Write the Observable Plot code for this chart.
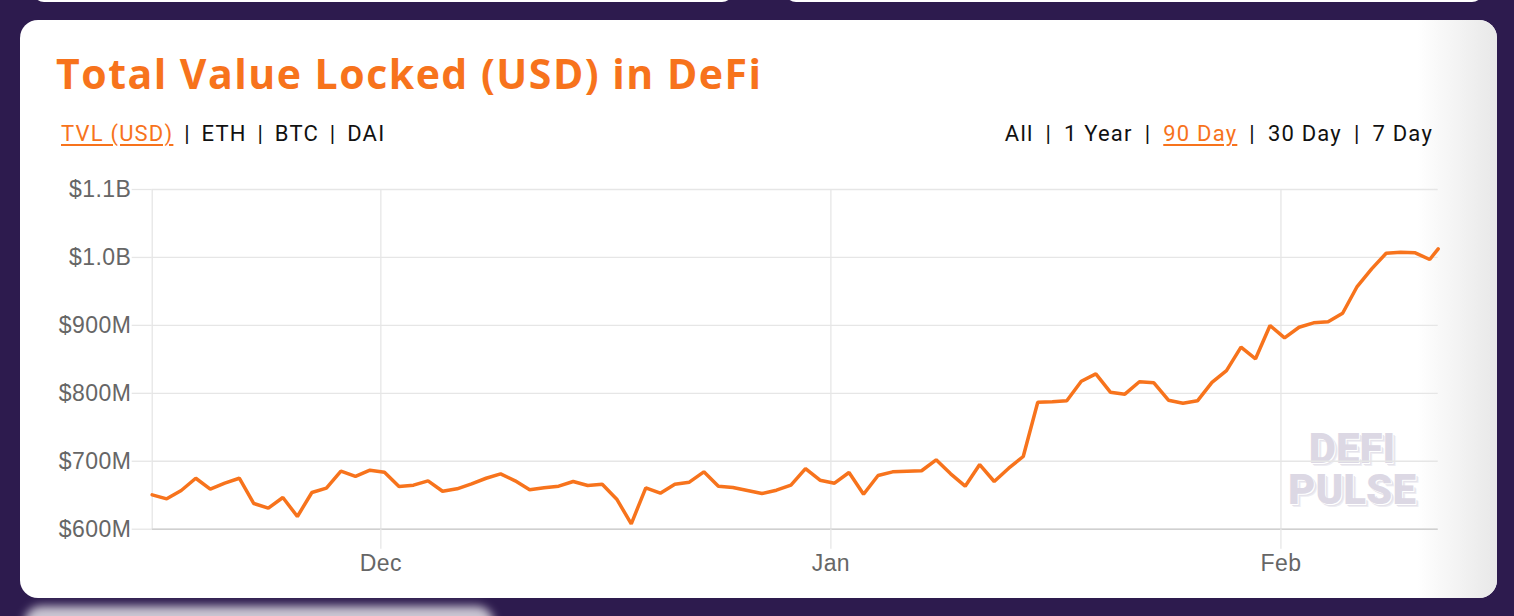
<!DOCTYPE html>
<html>
<head>
<meta charset="utf-8">
<script src="https://cdn.jsdelivr.net/npm/d3@7"></script>
<script src="https://cdn.jsdelivr.net/npm/@observablehq/plot@0.6"></script>
<style>
  html, body { margin: 0; padding: 0; }
  body { width: 1514px; height: 616px; overflow: hidden; position: relative; background: #2d1b4e; }
  .topcard { position: absolute; top: -20px; height: 22px; background: #fff; border-radius: 18px; }
  .card { position: absolute; left: 20px; top: 20px; width: 1477px; height: 578px; background: #fff; border-radius: 18px; overflow: hidden; }
  .fade { position: absolute; right: 0; top: 0; width: 80px; height: 100%; background: linear-gradient(to right, rgba(236,236,236,0), rgba(232,232,232,1)); }
  .glow { position: absolute; left: 24px; top: 606px; width: 470px; height: 40px; background: #fff; border-radius: 18px; filter: blur(5px); opacity: 0.75; }
  .title { position: absolute; left: 56px; top: 46px; font-family: "Open Sans", Roboto, sans-serif; font-weight: 700; font-size: 41px; letter-spacing: 1.5px; color: #f7731c; white-space: nowrap; line-height: 54px; }
  .nav { position: absolute; top: 120px; font-family: Roboto, sans-serif; font-size: 22px; letter-spacing: 1.2px; color: #111; white-space: nowrap; line-height: 28px; }
  .nav .sel { color: #f7731c; text-decoration: underline; text-underline-offset: 3px; }
  .navl .sep { margin: 0 10.8px; }
  .navr .sep { margin: 0 12px; }
  .navl { left: 61px; }
  .navr { right: 81px; }
  .wm { position: absolute; left: 1287px; width: 130px; text-align: center; font-family: Roboto, sans-serif; font-weight: 900; font-size: 42px; line-height: 38px; height: 38px; color: #dcd8e4; text-shadow: 1px 1px 0 #fff, 2px 2px 0 #e4e2ea, 3px 3px 0 #eeedf2; }
  #chart { position: absolute; left: 0; top: 170px; }
</style>
</head>
<body>
<div class="topcard" style="left:33px;width:700px"></div>
<div class="topcard" style="left:785px;width:698px"></div>
<div class="card"><div class="fade"></div></div>
<div class="glow"></div>
<div class="title">Total Value Locked (USD) in DeFi</div>
<div class="nav navl"><span class="sel">TVL (USD)</span><span class="sep">|</span>ETH<span class="sep">|</span>BTC<span class="sep">|</span>DAI</div>
<div class="nav navr">All<span class="sep">|</span>1 Year<span class="sep">|</span><span class="sel">90 Day</span><span class="sep">|</span>30 Day<span class="sep">|</span>7 Day</div>
<div class="wm" style="top:430px">DEFI</div>
<div class="wm" style="top:471px">PULSE</div>
<div id="chart"></div>
<script>
// Daily TVL values in millions of USD, starting 2019-11-15
const startDate = "2019-11-15T06:00:00Z";
const lastTimestamp = "2020-02-11T20:00:00Z";
const tvlDaily = [
  650.6, 644.7, 657.0, 675.0, 658.9, 667.7, 675.0, 637.8, 630.9, 646.7,
  618.7, 654.0, 660.4, 685.4, 677.6, 686.9, 683.9, 662.8, 664.8, 671.2,
  655.9, 659.4, 666.8, 675.0, 681.5, 671.2, 658.0, 660.9, 663.3, 670.2,
  664.3, 666.2, 644.2, 607.9, 660.9, 653.0, 666.2, 669.2, 684.4, 663.3,
  661.4, 657.0, 652.5, 657.4, 664.8, 689.3, 672.1, 667.7, 683.5, 651.5,
  679.0, 684.4, 685.4, 686.0, 702.1, 681.5, 663.3, 695.2, 670.2, 689.8,
  707.0, 786.9, 787.5, 789.0, 817.8, 828.7, 801.7, 798.7, 817.0, 815.5,
  789.9, 785.5, 789.0, 816.0, 833.4, 867.9, 850.8, 899.8, 881.7, 897.3,
  903.7, 905.2, 917.9, 957.2, 983.2, 1006.2, 1007.7, 1006.8, 997.0
];
const tvlLast = 1012.7;

const yTicks = [600, 700, 800, 900, 1000, 1100];
const yTickLabels = ["$600M", "$700M", "$800M", "$900M", "$1.0B", "$1.1B"];
const xTicks = ["2019-12-01", "2020-01-01", "2020-02-01"];
const xTickLabels = ["Dec", "Jan", "Feb"];

const start = new Date(startDate);
const data = tvlDaily.map((v, i) => ({date: d3.utcDay.offset(start, i), tvl: v}));
data.push({date: new Date(lastTimestamp), tvl: tvlLast});
const xTickDates = xTicks.map(s => new Date(s + "T00:00:00Z"));

const orange = "#f7731c";
const grid = "#e6e6e6";

const chart = Plot.plot({
  width: 1514,
  height: 420,
  marginLeft: 151.7,
  marginRight: 76.3,
  marginTop: 19,
  marginBottom: 61.3,
  style: {fontFamily: "'Liberation Sans', Arial, sans-serif", fontSize: "23px", letterSpacing: "0.4px", color: "#666", background: "transparent", overflow: "visible"},
  x: {type: "utc", domain: [data[0].date, data[data.length - 1].date], label: null},
  y: {domain: [600, 1100], label: null},
  marks: [
    Plot.gridY(yTicks, {stroke: grid, strokeOpacity: 1, strokeWidth: 1.3}),
    Plot.gridX(xTickDates, {stroke: grid, strokeOpacity: 1, strokeWidth: 1.3}),
    Plot.ruleX([data[0].date], {stroke: grid, strokeWidth: 1.3}),
    Plot.ruleY([600], {stroke: "#d0d0d0", strokeWidth: 1.5}),
    Plot.axisY(yTicks, {tickSize: 20, tickPadding: 1, stroke: grid, strokeWidth: 1.3, fill: "#666",
      tickFormat: d => yTickLabels[yTicks.indexOf(d)]}),
    Plot.axisX(xTickDates, {tickSize: 20, tickPadding: 5, stroke: grid, strokeWidth: 1.3, fill: "#666",
      tickFormat: d => xTickLabels[xTickDates.findIndex(t => +t === +d)]}),
    Plot.line(data, {x: "date", y: "tvl", stroke: orange, strokeWidth: 3.5, strokeLinejoin: "miter"})
  ]
});
document.getElementById("chart").appendChild(chart);
</script>
</body>
</html>
